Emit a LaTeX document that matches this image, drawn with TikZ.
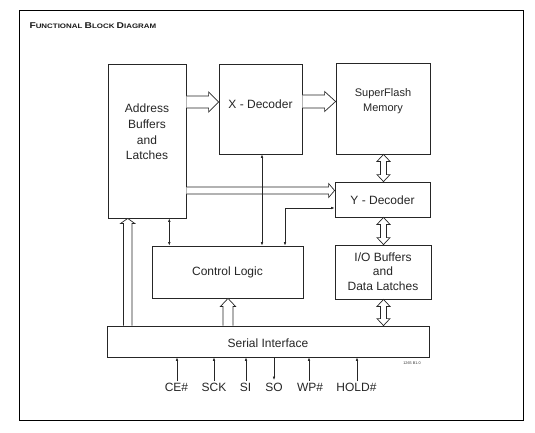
\documentclass[tikz,border=0pt]{standalone}
\usepackage{fontspec}
\setmainfont{Liberation Sans}
\usetikzlibrary{calc,arrows.meta}
\tikzset{
  blk/.style={draw=black!85, line width=0.8pt, inner sep=0pt, fill=white},
  txt/.style={font=\fontsize{12}{15}\selectfont, text=black!85, align=center, inner sep=0pt},
  thin/.style={draw=black!85, line width=0.6pt, {Latex[length=3.5pt,width=2.6pt]}-{Latex[length=3.5pt,width=2.6pt]}},
  sigarrow/.style={draw=black!85, line width=0.6pt, -{Latex[length=3.5pt,width=2.6pt]}},
  hollow/.style={draw=black!85, line width=0.7pt, fill=white, line join=miter},
}
% horizontal hollow arrow: #1 start, #2 end (tip), #3 shaft half, #4 head half, #5 head length
\newcommand{\HollowH}[5]{%
  \draw[hollow] ($#1+(0,-#3)$) -- ($#2+(-#5,-#3)$) -- ($#2+(-#5,-#4)$) -- #2 -- ($#2+(-#5,#4)$) -- ($#2+(-#5,#3)$) -- ($#1+(0,#3)$);}
% vertical hollow arrow pointing up: #1 start (bottom), #2 tip (top)
\newcommand{\HollowUp}[5]{%
  \draw[hollow] ($#1+(-#3,0)$) -- ($#2+(-#3,#5)$) -- ($#2+(-#4,#5)$) -- #2 -- ($#2+(#4,#5)$) -- ($#2+(#3,#5)$) -- ($#1+(#3,0)$);}
% vertical hollow double-headed arrow: #1 top tip, #2 bottom tip
\newcommand{\HollowUD}[5]{%
  \draw[hollow] #1 -- ($#1+(#4,#5)$) -- ($#1+(#3,#5)$) -- ($#2+(#3,-#5)$) -- ($#2+(#4,-#5)$) -- #2 -- ($#2+(-#4,-#5)$) -- ($#2+(-#3,-#5)$) -- ($#1+(-#3,#5)$) -- ($#1+(-#4,#5)$) -- cycle;}
\begin{document}
\begin{tikzpicture}[x=1pt,y=-1pt]
\useasboundingbox (0,0) rectangle (535,433);
\node[draw=black, line width=1pt, minimum width=504pt, minimum height=409pt, inner sep=0pt] (frame) at (271,215.5) {};
\node[anchor=west, inner sep=0pt, text=black!90] (title) at (29.3,25.3) {\scalebox{1.22}[1]{\bfseries
  {\fontsize{8.4}{10}\selectfont F}{\fontsize{6.5}{8}\selectfont UNCTIONAL }%
  {\fontsize{8.4}{10}\selectfont B}{\fontsize{6.5}{8}\selectfont LOCK }%
  {\fontsize{8.4}{10}\selectfont D}{\fontsize{6.5}{8}\selectfont IAGRAM}}};

% blocks
\node[blk, minimum width=78pt, minimum height=154pt] (addr) at (147,141) {};
\node[blk, minimum width=83pt, minimum height=90pt] (xdec) at (260.5,109) {};
\node[blk, minimum width=94pt, minimum height=91pt] (mem) at (383,108.5) {};
\node[blk, minimum width=95pt, minimum height=35pt] (ydec) at (382.5,199.5) {};
\node[blk, minimum width=151pt, minimum height=52pt] (ctrl) at (227.5,272) {};
\node[blk, minimum width=96pt, minimum height=54pt] (io) at (383,272) {};
\node[blk, minimum width=322pt, minimum height=31pt] (ser) at (268,341.5) {};

% texts
\node[txt] (addrt) at (147,132) {Address\\[0.6pt]Buffers\\[0.6pt]and\\[0.6pt]Latches};
\node[txt] (xdect) at (260.5,104) {X - Decoder};
\node[txt, font=\fontsize{11}{15}\selectfont] (memt) at (383,101.5) {SuperFlash\\Memory};
\node[txt] (ydect) at (382.5,200) {Y - Decoder};
\node[txt] (ctrlt) at (227.5,272) {Control Logic};
\node[txt, font=\fontsize{12}{14.3}\selectfont] (iot) at (383,271.5) {I/O Buffers\\and\\Data Latches};
\node[txt] (sert) at (268,343) {Serial Interface};

% hollow arrows
\coordinate (h1s) at (addr.east |- 0,102);
\coordinate (h1e) at (xdec.west |- 0,102);
\HollowH{(h1s)}{(h1e)}{6}{10}{10}
\coordinate (h2s) at (xdec.east |- 0,101.5);
\coordinate (h2e) at (mem.west |- 0,101.5);
\HollowH{(h2s)}{(h2e)}{6.5}{10}{11}
\coordinate (h3s) at (addr.east |- 0,190.5);
\coordinate (h3e) at (ydec.west |- 0,190.5);
\HollowH{(h3s)}{(h3e)}{3.5}{7}{6}
\coordinate (v1t) at (383.5,0 |- mem.south);
\coordinate (v1b) at (383.5,0 |- ydec.north);
\HollowUD{(v1t)}{(v1b)}{3}{6.5}{7}
\coordinate (v2t) at (383.5,0 |- ydec.south);
\coordinate (v2b) at (383.5,0 |- io.north);
\HollowUD{(v2t)}{(v2b)}{3}{6.5}{7}
\coordinate (v3t) at (383.5,0 |- io.south);
\coordinate (v3b) at (383.5,0 |- ser.north);
\HollowUD{(v3t)}{(v3b)}{3}{6.5}{7}
\coordinate (u1b) at (127.7,0 |- ser.north);
\coordinate (u1t) at (127.7,0 |- addr.south);
\HollowUp{(u1b)}{(u1t)}{4.2}{7}{5}
\coordinate (u2b) at (228,0 |- ser.north);
\coordinate (u2t) at (228,0 |- ctrl.south);
\HollowUp{(u2b)}{(u2t)}{5}{7.5}{8}

% thin arrows
\draw[thin] (262,0 |- xdec.south) -- (262,0 |- ctrl.north);
\draw[thin] (169.3,0 |- addr.south) -- (169.3,0 |- ctrl.north);
\draw[thin] (285,0 |- ctrl.north) |- (ydec.west |- 0,208);

% signals
\tikzset{sig/.style={font=\fontsize{12}{14}\selectfont, text=black!85, inner sep=0pt}}
\node[sig] (ce) at (176.5,387) {CE\#};
\node[sig] (sck) at (214,387) {SCK};
\node[sig] (si) at (245.5,387) {SI};
\node[sig] (so) at (274,387) {SO};
\node[sig] (wp) at (310,387) {WP\#};
\node[sig] (hold) at (356.5,387) {HOLD\#};
\coordinate (cea) at (177,0 |- ce.north);
\draw[sigarrow] ($(cea)+(0,-1.5)$) -- (177,0 |- ser.south);
\draw[sigarrow] ($(sck.north)+(0,-1.5)$) -- (sck.north |- ser.south);
\coordinate (sia) at (246,0 |- si.north);
\draw[sigarrow] ($(sia)+(0,-1.5)$) -- (246,0 |- ser.south);
\draw[sigarrow] (274,0 |- ser.south) -- ($(so.north)+(0,-2.5)$);
\coordinate (wpa) at (309,0 |- wp.north);
\draw[sigarrow] ($(wpa)+(0,-1.5)$) -- (309,0 |- ser.south);
\coordinate (hoa) at (357,0 |- hold.north);
\draw[sigarrow] ($(hoa)+(0,-1.5)$) -- (357,0 |- ser.south);
\node[inner sep=0pt, font=\fontsize{3.8}{4}\selectfont, text=black!80] (code) at (412,363) {1265 B1.0};
\end{tikzpicture}
\end{document}
